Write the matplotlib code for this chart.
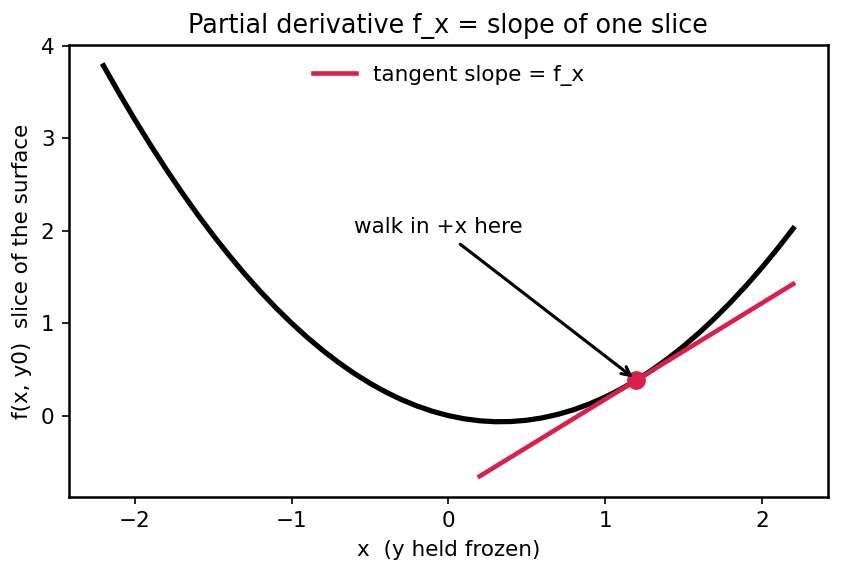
import numpy as np
import matplotlib.pyplot as plt

# %% values

# slice of the surface, f(x, y0)
x_vals = [-2.2, -2.1, -2.0, -1.9, -1.8, -1.7, -1.6, -1.5, -1.4, -1.3, -1.2,
          -1.1, -1.0, -0.9, -0.8, -0.7, -0.6, -0.5, -0.4, -0.3, -0.2, -0.1,
          0.0, 0.1, 0.2, 0.3, 0.4, 0.5, 0.6, 0.7, 0.8, 0.9, 1.0, 1.1, 1.2,
          1.3, 1.4, 1.5, 1.6, 1.7, 1.8, 1.9, 2.0, 2.1, 2.2]
f_vals = [3.784, 3.486, 3.2, 2.926, 2.664, 2.414, 2.176, 1.95, 1.736, 1.534, 1.344,
          1.166, 1.0, 0.846, 0.704, 0.574, 0.456, 0.35, 0.256, 0.174, 0.104, 0.046,
          0.0, -0.034, -0.056, -0.066, -0.064, -0.05, -0.024, 0.014, 0.064, 0.126, 0.2, 0.286, 0.384,
          0.494, 0.616, 0.75, 0.896, 1.054, 1.224, 1.406, 1.6, 1.806, 2.024]

# tangent line ends
tan_x = [0.2, 2.2]
tan_y = [-0.656, 1.424]

# point where the slope is taken
x0, f0 = 1.2, 0.384

# %% plot

red = '#DC1E4B'
plt.rcParams['axes.linewidth'] = 1.2

fig, ax = plt.subplots(figsize=(5.613, 3.82), dpi=150)
fig.subplots_adjust(left=0.082, right=0.983, top=0.921, bottom=0.133)
ax.plot(x_vals, f_vals, color='black', lw=2.5)
ax.plot(tan_x, tan_y, color=red, lw=2.2, label='tangent slope = f_x')
ax.plot([x0], [f0], 'o', color=red, ms=8)

ax.annotate('walk in +x here', xy=(x0, f0), xytext=(-0.6, 1.97),
            fontsize=10.3, arrowprops=dict(arrowstyle='->', color='black', lw=1.5))

ax.set_title('Partial derivative f_x = slope of one slice', fontsize=12.25)
ax.set_xlabel('x  (y held frozen)', fontsize=10.3)
ax.set_ylabel('f(x, y0)  slice of the surface', fontsize=10.3)
ax.tick_params(labelsize=10.3)
ax.legend(loc='upper center', frameon=False, fontsize=10.3)

fig.savefig('out.png', dpi=150)
